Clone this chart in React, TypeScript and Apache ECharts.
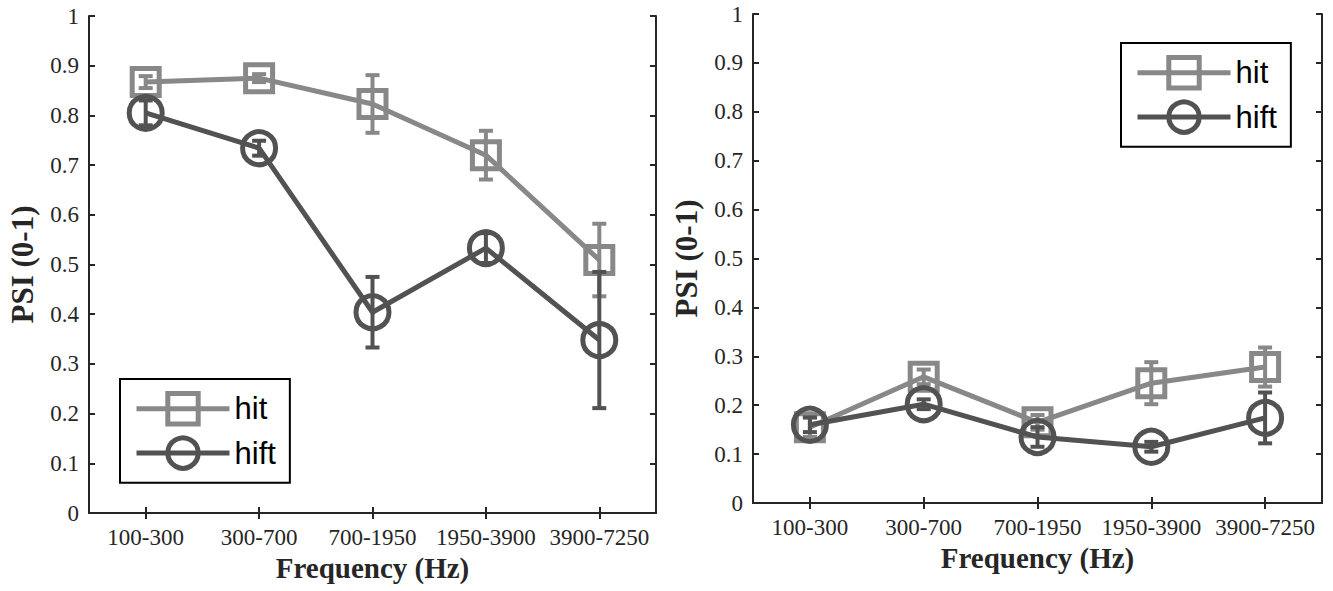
import React, { useEffect, useRef } from "react";
import * as echarts from "echarts";

const categories = ["100-300", "300-700", "700-1950", "1950-3900", "3900-7250"];
const yTicks = [0, 0.1, 0.2, 0.3, 0.4, 0.5, 0.6, 0.7, 0.8, 0.9, 1];

const leftHit = [0.867, 0.875, 0.823, 0.72, 0.509];
const leftHitErr = [0.012, 0.008, 0.058, 0.049, 0.073];
const leftHift = [0.805, 0.734, 0.404, 0.533, 0.348];
const leftHiftErr = [0.025, 0.015, 0.071, 0.03, 0.137];

const rightHit = [0.155, 0.258, 0.165, 0.245, 0.278];
const rightHitErr = [0.02, 0.015, 0.015, 0.043, 0.04];
const rightHift = [0.16, 0.202, 0.135, 0.115, 0.174];
const rightHiftErr = [0.015, 0.01, 0.02, 0.01, 0.052];

const HIT = "#888888";
const HIFT = "#525252";
const AX = "#262626";
const SERIF = "'Liberation Serif', 'Times New Roman', serif";
const SANS = "'Liberation Sans', Arial, sans-serif";

function errData(vals: number[], errs: number[]) {
  return vals.map((v, i) => [i, v - errs[i], v + errs[i]]);
}

function makeErrRender(color: string) {
  return (params: any, api: any) => {
    const x = api.value(0);
    const lo = api.value(1);
    const hi = api.value(2);
    const pt = api.coord([x, hi]);
    const pb = api.coord([x, lo]);
    const w = 7;
    const st = { stroke: color, lineWidth: 4 };
    return {
      type: "group",
      children: [
        { type: "line", shape: { x1: pt[0], y1: pt[1], x2: pb[0], y2: pb[1] }, style: st },
        { type: "line", shape: { x1: pt[0] - w, y1: pt[1], x2: pt[0] + w, y2: pt[1] }, style: st },
        { type: "line", shape: { x1: pb[0] - w, y1: pb[1], x2: pb[0] + w, y2: pb[1] }, style: st },
      ],
    };
  };
}

function xAxes(gridIndex: number) {
  const common = {
    type: "category",
    data: categories,
    gridIndex,
    boundaryGap: true,
    axisLine: { show: true, lineStyle: { color: AX, width: 2 } },
    axisTick: { show: true, inside: true, length: 6, interval: 0, alignWithLabel: true, lineStyle: { color: AX, width: 2 } },
    splitLine: { show: false },
  };
  return [
    {
      ...common,
      position: "bottom",
      name: "Frequency (Hz)",
      nameLocation: "middle",
      nameGap: 39,
      nameTextStyle: { fontFamily: SERIF, fontSize: 29, fontWeight: "bold", color: AX },
      axisLabel: { show: true, interval: 0, margin: 13, fontFamily: SERIF, fontSize: 23, color: AX, hideOverlap: false },
    },
    { ...common, position: "top", axisLabel: { show: false } },
  ];
}

function yAxes(gridIndex: number) {
  const common = {
    type: "value",
    gridIndex,
    min: 0,
    max: 1,
    interval: 0.1,
    axisLine: { show: true, lineStyle: { color: AX, width: 2 } },
    axisTick: { show: true, inside: true, length: 6, lineStyle: { color: AX, width: 2 } },
    splitLine: { show: false },
  };
  return [
    {
      ...common,
      position: "left",
      name: "PSI (0-1)",
      nameLocation: "middle",
      nameGap: 51,
      nameTextStyle: { fontFamily: SERIF, fontSize: 31, fontWeight: "bold", color: AX },
      axisLabel: {
        show: true,
        margin: 10,
        fontFamily: SERIF,
        fontSize: 23,
        color: AX,
        formatter: (v: number) => {
          const t = yTicks.find((k) => Math.abs(k - v) < 1e-6);
          const val = t === undefined ? v : t;
          return val === 0 || val === 1 ? String(val) : val.toFixed(1);
        },
      },
    },
    { ...common, position: "right", axisLabel: { show: false } },
  ];
}

function seriesFor(axisX: number, axisY: number, hit: number[], hitErr: number[], hift: number[], hiftErr: number[]) {
  return [
    {
      name: "hit",
      type: "line",
      xAxisIndex: axisX,
      yAxisIndex: axisY,
      data: hit,
      symbol: "rect",
      symbolSize: 27,
      z: 2,
      lineStyle: { color: HIT, width: 5 },
      itemStyle: { color: "rgba(255,255,255,0)", borderColor: HIT, borderWidth: 5 },
      emphasis: { disabled: true },
    },
    {
      name: "hit-err",
      type: "custom",
      xAxisIndex: axisX,
      yAxisIndex: axisY,
      data: errData(hit, hitErr),
      encode: { x: 0, y: [1, 2] },
      renderItem: makeErrRender(HIT),
      z: 3,
    },
    {
      name: "hift",
      type: "line",
      xAxisIndex: axisX,
      yAxisIndex: axisY,
      data: hift,
      symbol: "circle",
      symbolSize: 33,
      z: 4,
      lineStyle: { color: HIFT, width: 5 },
      itemStyle: { color: "rgba(255,255,255,0)", borderColor: HIFT, borderWidth: 5 },
      emphasis: { disabled: true },
    },
    {
      name: "hift-err",
      type: "custom",
      xAxisIndex: axisX,
      yAxisIndex: axisY,
      data: errData(hift, hiftErr),
      encode: { x: 0, y: [1, 2] },
      renderItem: makeErrRender(HIFT),
      z: 5,
    },
  ];
}

function legendAt(left: number, top: number) {
  return {
    show: true,
    orient: "vertical",
    left,
    top,
    data: ["hit", "hift"],
    selectedMode: false,
    itemWidth: 93,
    itemHeight: 38,
    itemGap: 9,
    padding: [12, 14, 12, 14],
    borderColor: "#000",
    borderWidth: 2,
    backgroundColor: "#fff",
    lineStyle: { width: 5 },
    itemStyle: { borderWidth: 5 },
    textStyle: { fontFamily: SANS, fontSize: 31, color: "#000" },
  };
}

export default function App() {
  const ref = useRef<HTMLDivElement>(null);
  useEffect(() => {
    if (!ref.current) return;
    const chart = echarts.init(ref.current, undefined, { renderer: "svg" });
    chart.setOption({
      animation: false,
      backgroundColor: "#fff",
      grid: [
        { left: 89, top: 16, width: 567, height: 497 },
        { left: 753, top: 14, width: 569, height: 489 },
      ],
      xAxis: [...xAxes(0), ...xAxes(1)],
      yAxis: [...yAxes(0), ...yAxes(1)],
      legend: [legendAt(120, 379), legendAt(1121, 43)],
      series: [
        ...seriesFor(0, 0, leftHit, leftHitErr, leftHift, leftHiftErr),
        ...seriesFor(2, 2, rightHit, rightHitErr, rightHift, rightHiftErr),
      ],
    });
    return () => chart.dispose();
  }, []);
  return (
    <div
      ref={ref}
      style={{ width: 1333, height: 591, position: "absolute", left: 0, top: 0, background: "#fff" }}
    />
  );
}
